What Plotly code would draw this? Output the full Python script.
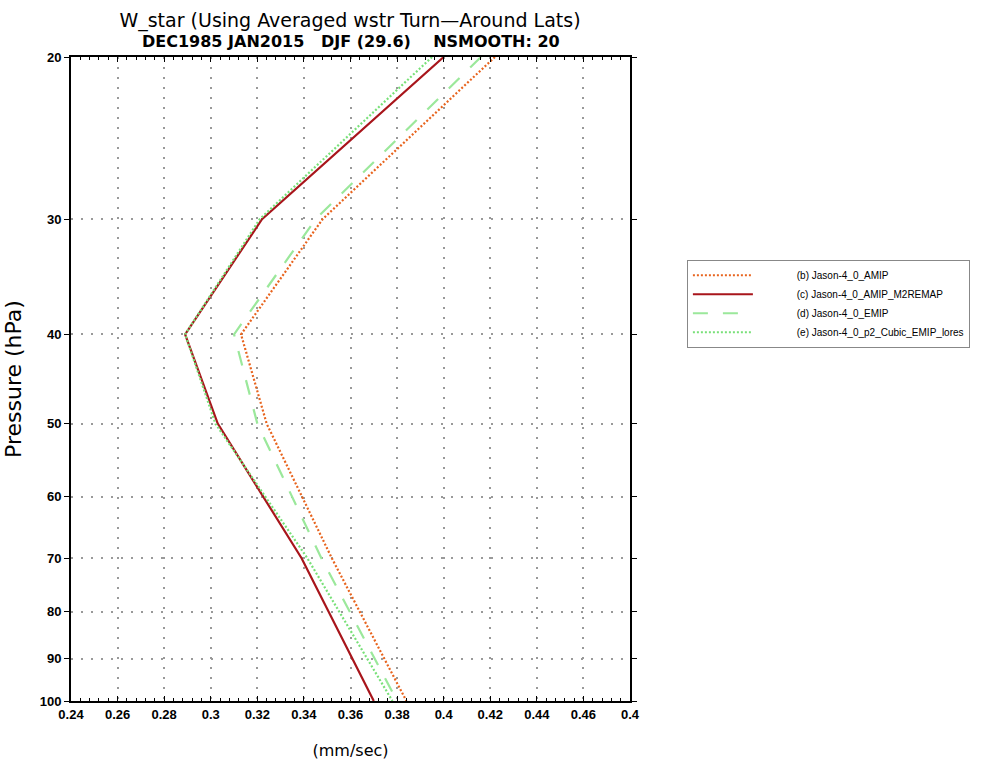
import plotly.graph_objects as go
import numpy as np

levels = [20, 30, 40, 50, 70, 100]
names = ["(b) Jason-4_0_AMIP", "(c) Jason-4_0_AMIP_M2REMAP",
         "(d) Jason-4_0_EMIP", "(e) Jason-4_0_p2_Cubic_EMIP_lores"]
amip = [0.422, 0.348, 0.313, 0.324, 0.352, 0.384]
m2remap = [0.400, 0.322, 0.289, 0.303, 0.339, 0.370]
emip = [0.416, 0.345, 0.310, 0.320, 0.3475, 0.380]
cubic = [0.395, 0.321, 0.289, 0.302, 0.3415, 0.378]

xticks = [0.24, 0.26, 0.28, 0.30, 0.32, 0.34, 0.36, 0.38, 0.40, 0.42, 0.44, 0.46, 0.48]
xticktext = ["0.24", "0.26", "0.28", "0.3", "0.32", "0.34", "0.36", "0.38", "0.4", "0.42", "0.44", "0.46", "0.4"]
yticks = [20, 30, 40, 50, 60, 70, 80, 90, 100]

title1 = "W_star (Using Averaged wstr Turn\u2014Around Lats)"
title2 = "DEC1985 JAN2015   DJF (29.6)    NSMOOTH: 20"

series = [
    (amip, names[0], dict(color="#e8641e", width=2.2, dash="2px,2px")),
    (m2remap, names[1], dict(color="#a8151b", width=2.2, dash="solid")),
    (emip, names[2], dict(color="#9be89b", width=2.2, dash="longdash")),
    (cubic, names[3], dict(color="#78e078", width=2.2, dash="2px,2px")),
]

pad = "\u00a0" * 14
fig = go.Figure()
for vals, nm, ln in series:
    fig.add_trace(go.Scatter(x=vals, y=levels, mode="lines", name=pad + nm, line=ln))

axfont = dict(family="Liberation Sans", size=13, color="black")
fig.update_layout(
    width=998, height=769,
    margin=dict(l=70, r=368, t=57, b=64),
    paper_bgcolor="white", plot_bgcolor="white",
    title=dict(text=title1, x=350/998, xanchor="center",
               yref="container", y=1-20/769, yanchor="middle",
               font=dict(family="DejaVu Sans", size=19, color="black")),
    xaxis=dict(range=[0.24, 0.48], tickvals=xticks,
               ticktext=["<b>%s</b>" % t for t in xticktext],
               showgrid=True, gridcolor="#999999", griddash="2px,8px", gridwidth=1.5,
               showline=True, linecolor="black", linewidth=2, mirror="ticks",
               ticks="inside", ticklen=5, tickcolor="black",
               minor=dict(ticks="inside", ticklen=3, dtick=0.004, tickcolor="black", showgrid=False),
               tickfont=axfont, zeroline=False,
               title=dict(text="(mm/sec)", font=dict(family="DejaVu Sans", size=16, color="black"), standoff=24)),
    yaxis=dict(type="log", range=[np.log10(100), np.log10(20)], tickvals=yticks,
               ticktext=["<b>%d</b>" % v for v in yticks],
               showgrid=True, gridcolor="#999999", griddash="2px,8px", gridwidth=1.5,
               showline=True, linecolor="black", linewidth=2, mirror="ticks",
               ticks="outside", ticklen=5, tickcolor="black",
               tickfont=axfont, zeroline=False,
               title=dict(text="Pressure (hPa)", font=dict(family="DejaVu Sans", size=22, color="black"), standoff=12)),
    legend=dict(x=(687-70)/560, y=(705-261)/648, xanchor="left", yanchor="top",
                bordercolor="#888888", borderwidth=1, bgcolor="white",
                font=dict(family="Liberation Sans Narrow, Liberation Sans", size=10, color="black"),
                itemwidth=60, entrywidth=420, entrywidthmode="pixels",
                tracegroupgap=0),
    showlegend=True,
    annotations=[dict(text="<b>%s</b>" % title2, xref="paper", yref="paper",
                      x=(350-70)/560, y=1+(57-41)/648, xanchor="center", yanchor="middle",
                      showarrow=False, font=dict(family="DejaVu Sans", size=16, color="black"))],
)

fig.write_html("out.html")
